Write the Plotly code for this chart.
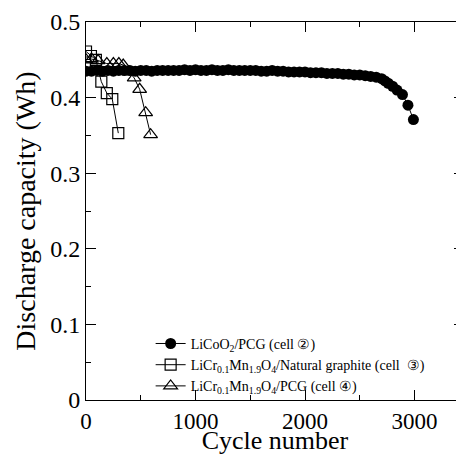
import plotly.graph_objects as go

# LiCoO2/PCG (cell 2)
cyc_a = [0, 50, 100, 150, 200, 250, 300, 350, 400, 450, 500, 550, 600, 650, 700, 750, 800,
         850, 900, 950, 1000, 1050, 1100, 1150, 1200, 1250, 1300, 1350, 1400, 1450, 1500,
         1550, 1600, 1650, 1700, 1750, 1800, 1850, 1900, 1950, 2000, 2050, 2100, 2150, 2200,
         2250, 2300, 2350, 2400, 2450, 2500, 2550, 2600, 2650, 2700, 2730, 2760, 2800, 2840,
         2890, 2940, 2990]
cap_a = [0.435, 0.435, 0.436, 0.435, 0.436, 0.435, 0.436, 0.436, 0.436, 0.435, 0.436, 0.436,
         0.435, 0.436, 0.436, 0.436, 0.436, 0.436, 0.437, 0.436, 0.437, 0.436, 0.436, 0.437,
         0.436, 0.436, 0.437, 0.436, 0.436, 0.436, 0.436, 0.436, 0.435, 0.435, 0.436, 0.435,
         0.435, 0.434, 0.434, 0.434, 0.434, 0.433, 0.433, 0.433, 0.432, 0.432, 0.432, 0.431,
         0.431, 0.430, 0.430, 0.429, 0.428, 0.427, 0.425, 0.422, 0.419, 0.415, 0.410,
         0.404, 0.390, 0.371]

# LiCr0.1Mn1.9O4/Natural graphite (cell 3)
cyc_b = [0, 45, 90, 140, 190, 240, 295]
cap_b = [0.461, 0.455, 0.450, 0.421, 0.406, 0.398, 0.353]

# LiCr0.1Mn1.9O4/PCG (cell 4)
cyc_c = [0, 50, 110, 190, 250, 300, 340, 390, 440, 490, 545, 590]
cap_c = [0.450, 0.451, 0.449, 0.445, 0.445, 0.445, 0.443, 0.434, 0.426, 0.411, 0.380, 0.351]

names = ["LiCoO<sub>2</sub>/PCG (cell ②)",
         "LiCr<sub>0.1</sub>Mn<sub>1.9</sub>O<sub>4</sub>/Natural graphite (cell  ③)",
         "LiCr<sub>0.1</sub>Mn<sub>1.9</sub>O<sub>4</sub>/PCG (cell ④)"]

x_ticks = [0, 1000, 2000, 3000]
y_ticks = [0, 0.1, 0.2, 0.3, 0.4, 0.5]
y_labels = ["0", "0.1", "0.2", "0.3", "0.4", "0.5"]

fig = go.Figure()
fig.add_trace(go.Scatter(x=cyc_a, y=cap_a, name=names[0], mode="lines+markers",
                         line=dict(color="black", width=1),
                         marker=dict(symbol="circle", size=11, color="black")))
fig.add_trace(go.Scatter(x=cyc_b, y=cap_b, name=names[1], mode="lines+markers",
                         line=dict(color="black", width=1),
                         marker=dict(symbol="square-open", size=11, color="black",
                                     line=dict(width=1.2))))
fig.add_trace(go.Scatter(x=cyc_c, y=cap_c, name=names[2], mode="lines+markers",
                         line=dict(color="black", width=1),
                         marker=dict(symbol="triangle-up-open", size=12, color="black",
                                     line=dict(width=1.2))))

font_fam = "Liberation Serif, Times New Roman, DejaVu Serif, serif"
# the page body has an 8px default margin, so the figure is sized to fit inside it
fig.update_layout(
    width=456, height=447,
    margin=dict(l=78, r=0, t=14, b=55, autoexpand=False),
    paper_bgcolor="white", plot_bgcolor="white",
    font=dict(family=font_fam, color="black"),
    showlegend=True,
    legend=dict(x=0.171, y=-0.005, xanchor="left", yanchor="bottom",
                bgcolor="rgba(0,0,0,0)", font=dict(size=14, family=font_fam),
                tracegroupgap=0, itemwidth=30),
    xaxis=dict(range=[0, 3452], tickvals=x_ticks, ticks="inside", ticklen=10,
               tickwidth=1, tickcolor="black", showline=True, linecolor="black",
               linewidth=1, mirror="ticks", showgrid=False, zeroline=False,
               automargin=False,
               tickfont=dict(size=23), title=dict(text="Cycle number", font=dict(size=26),
                                                  standoff=0),
               minor=dict(dtick=500, ticks="inside", ticklen=5, tickcolor="black",
                          showgrid=False)),
    yaxis=dict(range=[0, 0.5], tickvals=y_ticks, ticktext=y_labels, ticks="inside",
               ticklen=10, tickwidth=1, tickcolor="black", showline=True,
               linecolor="black", linewidth=1, mirror="ticks", showgrid=False,
               zeroline=False, automargin=False, tickfont=dict(size=24),
               title=dict(text="Discharge capacity (Wh)", font=dict(size=28), standoff=6),
               minor=dict(dtick=0.05, ticks="inside", ticklen=5, tickcolor="black",
                          showgrid=False)),
)

fig.write_html("out.html")
